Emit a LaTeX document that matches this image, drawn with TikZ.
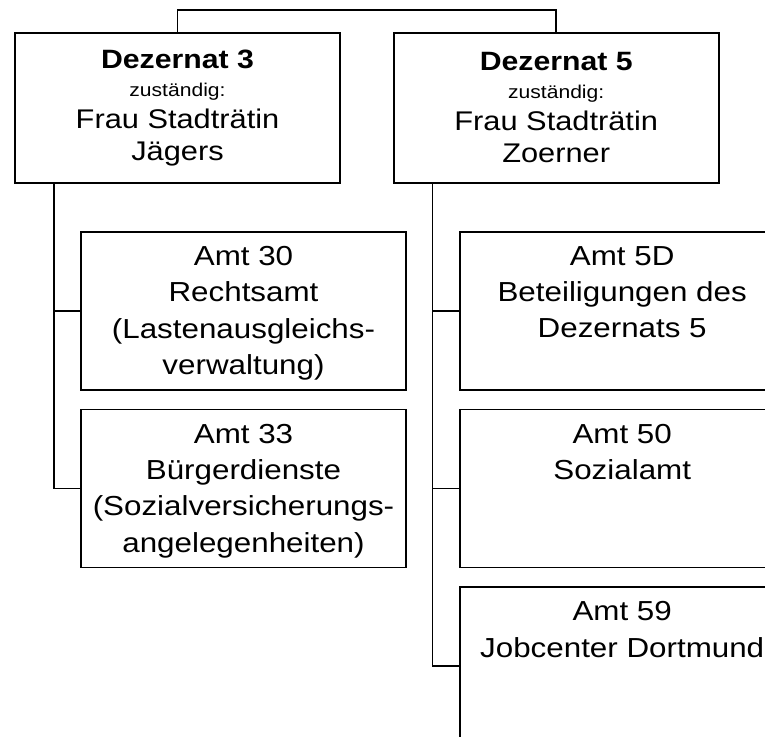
\documentclass[tikz,border=0pt]{standalone}
\usepackage{fontspec}
\setmainfont{Liberation Sans}[FakeStretch=1.14]
\usetikzlibrary{positioning}
\tikzset{
	dezernat/.style={
		draw, line width=1.7pt, inner sep=0pt,
		minimum width=325pt, minimum height=150pt
	},
	amt/.style={
		draw, line width=1.7pt, inner sep=0pt
	},
	linie/.style={
		line width=1.7pt
	}
}
\newcommand{\dezfeld}[3]{\parbox{325pt}{\centering
	\fontsize{26.5}{30}\bfseries #1\par
	\fontsize{18.5}{28}\mdseries zuständig:\par
	\fontsize{27}{32}\selectfont #2\\#3}}
\newcommand{\amtfeld}[1]{\parbox[c][158pt][t]{325pt}{\centering
	\fontsize{27.5}{36.3}\selectfont\vspace*{14.5pt}#1}}

\begin{document}
\begin{tikzpicture}[x=1pt,y=1pt]
	\useasboundingbox (0,0) rectangle (765,-736);
	\clip (0,0) rectangle (765,-736);

	\node[dezernat]                  (d3) at (177.5,-108) {\dezfeld{Dezernat 3}{Frau Stadträtin}{Jägers}};
	\node[dezernat,right=52pt of d3] (d5) {\dezfeld{Dezernat 5}{Frau Stadträtin}{Zoerner}};

	\node[amt,below=47pt of d3.south west,anchor=north west,xshift=66pt] (a30) {\amtfeld{Amt 30\\Rechtsamt\\(Lastenausgleichs-\\verwaltung)}};
	\node[amt,below=18pt of a30]                                         (a33) {\amtfeld{Amt 33\\Bürgerdienste\\(Sozialversicherungs-\\angelegenheiten)}};
	\node[amt,below=47pt of d5.south west,anchor=north west,xshift=66pt] (a5d) {\amtfeld{Amt 5D\\Beteiligungen des\\Dezernats 5}};
	\node[amt,below=18pt of a5d]                                         (a50) {\amtfeld{Amt 50\\Sozialamt}};
	\node[amt,below=18pt of a50]                                         (a59) {\amtfeld{Amt 59\\Jobcenter Dortmund}};

	\coordinate (s3) at ([xshift=39.5pt]d3.south west);
	\coordinate (s5) at ([xshift=39.5pt]d5.south west);

	\draw[linie] (d3.north) -- ++(0,22.5) -| (d5.north);
	\draw[linie] (s3) |- (a33.west);
	\draw[linie] (s3 |- a30.west) -- (a30.west);
	\draw[linie] (s5) |- (a59.west);
	\draw[linie] (s5 |- a5d.west) -- (a5d.west);
	\draw[linie] (s5 |- a50.west) -- (a50.west);
\end{tikzpicture}
\end{document}
